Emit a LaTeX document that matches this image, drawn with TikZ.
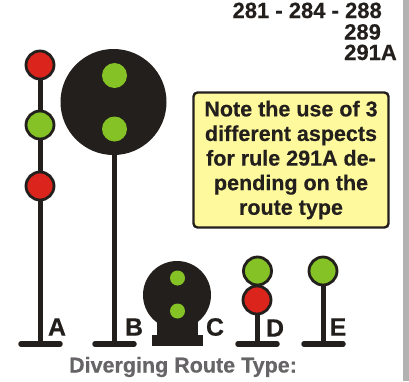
\documentclass[tikz,border=0pt]{standalone}
\usepackage{fontspec}
\setmainfont{Liberation Sans}[BoldFeatures={FakeBold=0.4}]
\definecolor{sigblack}{HTML}{231F1C}
\definecolor{sigred}{HTML}{DB251C}
\definecolor{siggreen}{HTML}{84C225}
\definecolor{noteyellow}{HTML}{FFF99D}
\definecolor{capgrey}{HTML}{666466}
\definecolor{bargrey}{HTML}{B2B2B2}
\tikzset{
  x=1pt,y=-1pt,
  lamp/.style={circle,draw=sigblack,line width=2.8pt,minimum size=28pt,inner sep=0pt},
  redlamp/.style={lamp,fill=sigred},
  greenlamp/.style={lamp,fill=siggreen},
  post/.style={draw=sigblack,line width=5pt},
  foot/.style={draw=sigblack,line width=5.5pt,line cap=round},
  letter/.style={font=\bfseries\fontsize{25}{25}\selectfont,text=sigblack,inner sep=0pt},
  toptext/.style={inner sep=0pt,font=\bfseries\fontsize{22}{22}\selectfont,text=sigblack},
}
\begin{document}
\begin{tikzpicture}
\useasboundingbox (0,0) rectangle (409,381);
\fill[white] (0,0) rectangle (409,381);
\fill[bargrey] (403,0) rectangle (409,381);
% A
\coordinate (a0) at (40,344);
\coordinate (afl) at (21,344);
\coordinate (afr) at (60,344);
\node[redlamp] (a1) at (40,65) {};
\node[greenlamp] (a2) at (40,125) {};
\node[redlamp] (a3) at (40,186) {};
\draw[post] (a1) -- (a2);
\draw[post] (a2) -- (a3);
\draw[post] (a3) -- (a0);
\draw[foot] (afl) -- (afr);
\node[letter] (la) at (57,327) {A};
% B
\coordinate (b0) at (114,344);
\coordinate (bfl) at (95,344);
\coordinate (bfr) at (134,344);
\draw[post] (114,150) -- (b0);
\node[circle,fill=sigblack,minimum size=106pt,inner sep=0pt] (bh) at (113.5,102) {};
\node[circle,fill=siggreen,minimum size=25pt,inner sep=0pt] (b1) at (114.5,75.5) {};
\node[circle,fill=siggreen,minimum size=25pt,inner sep=0pt] (b2) at (114.5,129) {};
\draw[foot] (bfl) -- (bfr);
\node[letter] (lb) at (134,327) {B};
% C
\node[circle,fill=sigblack,minimum size=68pt,inner sep=0pt] (ch) at (177,295) {};
\fill[sigblack] (157,315) rectangle (198,336);
\fill[sigblack] (152,335) rectangle (203,346);
\node[circle,fill=siggreen,minimum size=15pt,inner sep=0pt] (c1) at (177.5,278) {};
\node[circle,fill=siggreen,minimum size=15pt,inner sep=0pt] (c2) at (177.5,311) {};
\node[letter] (lc) at (215,327) {C};
% D
\coordinate (d0) at (257,344);
\coordinate (dfl) at (238,344);
\coordinate (dfr) at (277,344);
\draw[post] (257,310) -- (d0);
\node[greenlamp] (d1) at (257.5,271) {};
\node[redlamp] (d2) at (257,300) {};
\draw[foot] (dfl) -- (dfr);
\node[letter] (ld) at (275,328) {D};
% E
\coordinate (e0) at (323,344);
\coordinate (efl) at (304,344);
\coordinate (efr) at (343,344);
\node[greenlamp] (e1) at (323,271) {};
\draw[post] (e1) -- (e0);
\draw[foot] (efl) -- (efr);
\node[letter] (le) at (338,327) {E};
% Note
\node[draw=sigblack,fill=noteyellow,line width=2.4pt,rounded corners=4pt,minimum width=195pt,minimum height=135pt,inner sep=0pt,
  align=center,font=\bfseries\fontsize{21.5}{24.6}\selectfont,text=sigblack] (note) at (291,160)
  {Note the use of 3\\different aspects\\for rule 291A de-\\pending on the\\route type};
% Top text
\node[toptext,anchor=base east] (t1) at (382,18) {281 - 284 - 288};
\node[toptext,anchor=base west] (t2) at (344,39.5) {289};
\node[toptext,anchor=base west] (t3) at (344,60) {291A};
% Caption
\node[inner sep=0pt,font=\bfseries\fontsize{21.5}{21.5}\selectfont,text=capgrey] (cap) at (183,367) {Diverging Route Type:};
\end{tikzpicture}
\end{document}
